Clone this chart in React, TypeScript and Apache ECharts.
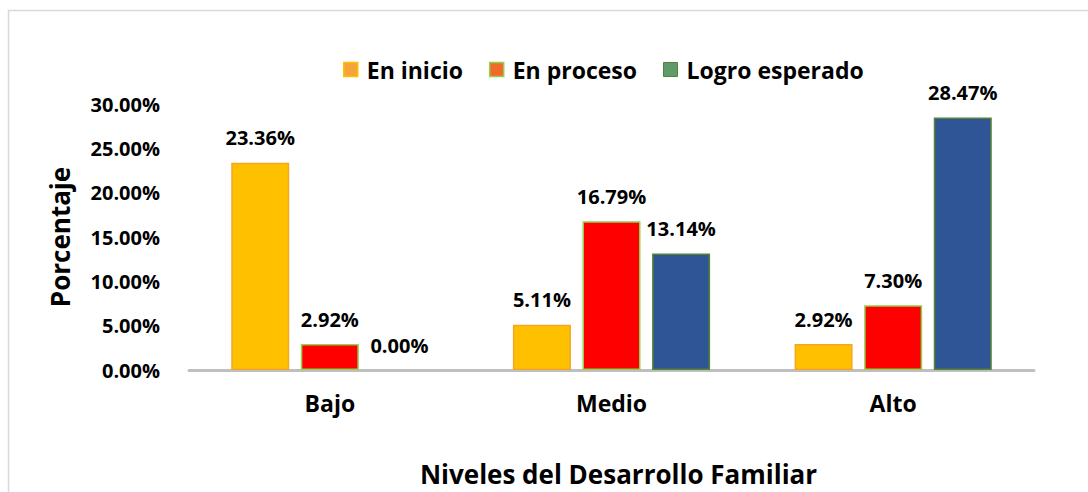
import React, { useEffect, useRef } from "react";
import * as echarts from "echarts";

const categories = ["Bajo", "Medio", "Alto"];
const seriesNames = ["En inicio", "En proceso", "Logro esperado"];
const enInicio = [23.36, 5.11, 2.92];
const enProceso = [2.92, 16.79, 7.3];
const logroEsperado = [0.0, 13.14, 28.47];

const FONT = "'Open Sans', sans-serif";

export default function App() {
  const ref = useRef<HTMLDivElement>(null);
  useEffect(() => {
    if (!ref.current) return;
    const chart = echarts.init(ref.current, undefined, { renderer: "svg" });
    const label = {
      show: true,
      position: "top" as const,
      distance: 15,
      formatter: (p: any) => p.value.toFixed(2) + "%",
      fontFamily: FONT,
      fontWeight: "bold" as const,
      fontSize: 20,
      color: "#000",
    };
    const hideZero = (arr: number[]) =>
      arr.map((v) =>
        v === 0 ? { value: v, itemStyle: { borderWidth: 0, color: "rgba(0,0,0,0)" } } : v
      );
    chart.setOption({
      animation: false,
      backgroundColor: "#fff",
      graphic: [
        {
          type: "rect",
          shape: { x: 8.5, y: 10.5, width: 1100, height: 500 },
          style: { fill: "none", stroke: "#D9D9D9", lineWidth: 1.5 },
          silent: true,
        },
      ],
      legend: {
        top: 53,
        left: 338,
        itemWidth: 14,
        itemHeight: 14,
        itemGap: 26,
        icon: "rect",
        textStyle: { fontFamily: FONT, fontWeight: "bold", fontSize: 23, color: "#000", padding: [0, 0, 0, 4] },
        data: [
          { name: seriesNames[0], itemStyle: { color: "#F4A43A", borderColor: "#FFC000", borderWidth: 1.5 } },
          { name: seriesNames[1], itemStyle: { color: "#F26A2A", borderColor: "#92D050", borderWidth: 1.5 } },
          { name: seriesNames[2], itemStyle: { color: "#5E9A6A", borderColor: "#548235", borderWidth: 1 } },
        ],
      },
      grid: { left: 189, right: 54, top: 104, bottom: 122 },
      xAxis: {
        type: "category",
        data: categories,
        axisLine: { lineStyle: { color: "#BFBFBF", width: 3 } },
        axisTick: { show: false },
        axisLabel: { fontFamily: FONT, fontWeight: "bold", fontSize: 23, color: "#000", margin: 21 },
        name: "Niveles del Desarrollo Familiar",
        nameLocation: "middle",
        nameGap: 91,
        nameTextStyle: { fontFamily: FONT, fontWeight: "bold", fontSize: 26, color: "#000", padding: [0, 0, 0, 14] },
      },
      yAxis: {
        type: "value",
        min: 0,
        max: 30,
        interval: 5,
        splitLine: { show: false },
        axisLine: { show: false },
        axisTick: { show: false },
        axisLabel: {
          formatter: (v: number) => v.toFixed(2) + "%",
          fontFamily: FONT,
          fontWeight: "bold",
          fontSize: 20,
          color: "#000",
          margin: 29,
        },
        name: "Porcentaje",
        nameLocation: "middle",
        nameGap: 116,
        nameTextStyle: { fontFamily: FONT, fontWeight: "bold", fontSize: 26, color: "#000" },
      },
      series: [
        {
          name: seriesNames[0],
          type: "bar",
          data: hideZero(enInicio),
          barWidth: 58,
          barGap: "20%",
          itemStyle: { color: "#FFC000", borderColor: "#F5A623", borderWidth: 1.5 },
          label,
        },
        {
          name: seriesNames[1],
          type: "bar",
          data: hideZero(enProceso),
          barWidth: 58,
          barGap: "20%",
          itemStyle: { color: "#FF0000", borderColor: "#92D050", borderWidth: 1.5 },
          label,
        },
        {
          name: seriesNames[2],
          type: "bar",
          data: hideZero(logroEsperado),
          barWidth: 58,
          barGap: "20%",
          itemStyle: { color: "#2F5597", borderColor: "#548235", borderWidth: 1.5 },
          label,
        },
      ],
    });
    return () => chart.dispose();
  }, []);
  return (
    <div
      ref={ref}
      style={{ position: "absolute", left: 0, top: 0, width: 1088, height: 492 }}
    />
  );
}
